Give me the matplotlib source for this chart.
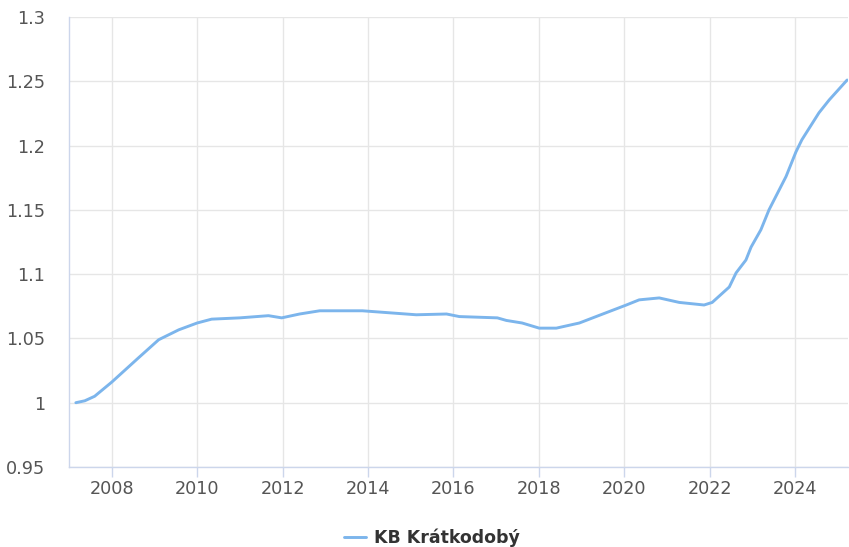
import matplotlib
matplotlib.use("Agg")
import matplotlib.pyplot as plt
from matplotlib.ticker import FuncFormatter, FixedLocator

# Data (decimal years, index value)
years = [2007.16, 2007.37, 2007.60, 2008.00, 2008.63, 2009.10, 2009.57, 2010.00,
         2010.34, 2011.00, 2011.67, 2011.98, 2012.40, 2012.87, 2013.87, 2015.13,
         2015.84, 2016.14, 2017.03, 2017.24, 2017.61, 2018.01, 2018.41, 2018.95,
         2019.42, 2020.05, 2020.35, 2020.82, 2021.29, 2021.87, 2022.06, 2022.46,
         2022.62, 2022.85, 2022.97, 2023.20, 2023.39, 2023.79, 2024.02, 2024.16,
         2024.56, 2024.80, 2025.22]
values = [1.000, 1.0015, 1.005, 1.016, 1.035, 1.049, 1.0567, 1.062,
          1.065, 1.066, 1.0677, 1.066, 1.069, 1.0715, 1.0715, 1.0684,
          1.069, 1.067, 1.066, 1.064, 1.062, 1.058, 1.058, 1.062,
          1.068, 1.076, 1.080, 1.0815, 1.078, 1.076, 1.078, 1.090,
          1.101, 1.111, 1.121, 1.1345, 1.150, 1.176, 1.195, 1.2045,
          1.2255, 1.2355, 1.251]
series_name = "KB Krátkodobý"
x_ticks = [2008, 2010, 2012, 2014, 2016, 2018, 2020, 2022, 2024]
y_ticks = [0.95, 1.0, 1.05, 1.1, 1.15, 1.2, 1.25, 1.3]

plt.rcParams['font.family'] = ['DejaVu Sans']

W, H = 849, 547
fig = plt.figure(figsize=(W / 100, H / 100), dpi=100)
ax = fig.add_axes([69 / W, 1 - 467 / H, (848 - 69) / W, (467 - 17) / H])

line, = ax.plot(years, values, color="#7cb5ec", lw=2.1, solid_capstyle="round",
                solid_joinstyle="round", label=series_name, zorder=3)

ax.set_xlim(2007.0, 2025.24)
ax.set_ylim(0.95, 1.3)
ax.xaxis.set_major_locator(FixedLocator(x_ticks))
ax.yaxis.set_major_locator(FixedLocator(y_ticks))
ax.xaxis.set_major_formatter(FuncFormatter(lambda v, p: f"{int(v)}"))
ax.yaxis.set_major_formatter(FuncFormatter(lambda v, p: f"{v:g}"))

ax.grid(True, color="#e6e6e6", lw=1)
ax.set_axisbelow(True)
for s in ["top", "right"]:
    ax.spines[s].set_visible(False)
for s in ["left", "bottom"]:
    ax.spines[s].set_color("#ccd6eb")
    ax.spines[s].set_linewidth(1)

ax.tick_params(axis="x", length=7, width=1, color="#ccd6eb", labelsize=12.7,
               labelcolor="#555555", pad=2)
ax.tick_params(axis="y", length=0, labelsize=12.7, labelcolor="#555555", pad=17)

leg = fig.legend(handles=[line], loc="center", bbox_to_anchor=(432 / W, 1 - 538 / H),
                 frameon=False, handlelength=1.3, handletextpad=0.45,
                 prop={"weight": "bold", "size": 12.5})
for t in leg.get_texts():
    t.set_color("#333333")

fig.savefig("out.png", dpi=100)
